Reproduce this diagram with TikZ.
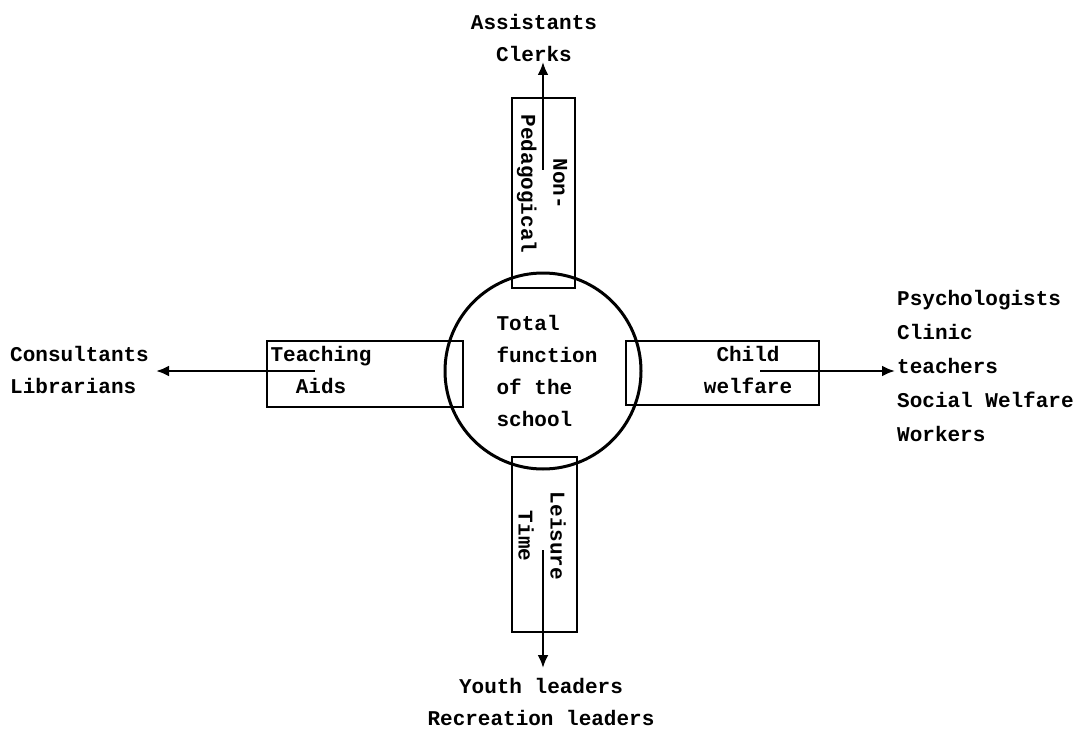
\documentclass[tikz,border=0pt]{standalone}
\usepackage{fontspec}
\setmonofont{Liberation Mono}
\usetikzlibrary{arrows.meta}

\tikzset{
  every node/.style={font=\ttfamily\bfseries\fontsize{21}{32}\selectfont, inner sep=0pt},
  hub/.style={circle, draw, line width=3pt, minimum size=196pt},
  tab/.style={draw, line width=2.6pt},
  conn/.style={line width=2.6pt, -{Latex[length=13pt,width=11pt]}},
}

\begin{document}
\begin{tikzpicture}[x=1pt,y=-1pt]
\useasboundingbox (0,0) rectangle (1091,730);
% centre and the four tabs
\node[hub] (school) at (543,371) {};
\node[tab, minimum width=63pt, minimum height=190pt] (toptab) at (543.5,193) {};
\node[tab, minimum width=65pt, minimum height=175pt] (bottab) at (544.5,544.5) {};
\node[tab, minimum width=196pt, minimum height=66pt] (lefttab) at (365,374) {};
\node[tab, minimum width=193pt, minimum height=64pt] (righttab) at (722.5,373) {};
% texts
\node[align=left] (total) at (547,371) {Total\\function\\of the\\school};
\node[rotate=-90, align=center] (nonped) at (542,184) {Non-\\Pedagogical};
\node[rotate=-90, align=center] (leisure) at (542,536) {Leisure\\Time};
\node[align=center] (aids) at (321,370) {Teaching\\Aids};
\node[align=center] (child) at (748,370) {Child\\welfare};
\node[align=center] (staff) at (534,38) {Assistants\\Clerks};
\node[align=left, anchor=west] (advisers) at (10,370) {Consultants\\Librarians};
\node[align=left, anchor=west, font=\ttfamily\bfseries\fontsize{21}{34}\selectfont] (welfare) at (897,366)
  {Psychologists\\Clinic\\teachers\\Social Welfare\\Workers};
\node[align=center] (leaders) at (541,702) {Youth leaders\\Recreation leaders};
% connectors
\coordinate (c-top) at (543,170);
\coordinate (c-left) at (315,371);
\coordinate (c-right) at (760,371);
\coordinate (c-bot) at (543,550);
\draw[conn] (c-top) -- (c-top |- staff.south);
\draw[conn] (c-left) -- ([xshift=7pt]c-left -| advisers.east);
\draw[conn] (c-right) -- ([xshift=-2pt]c-right -| welfare.west);
\draw[conn] (c-bot) -- ([yshift=10pt]c-bot |- leaders.north);
\end{tikzpicture}
\end{document}
